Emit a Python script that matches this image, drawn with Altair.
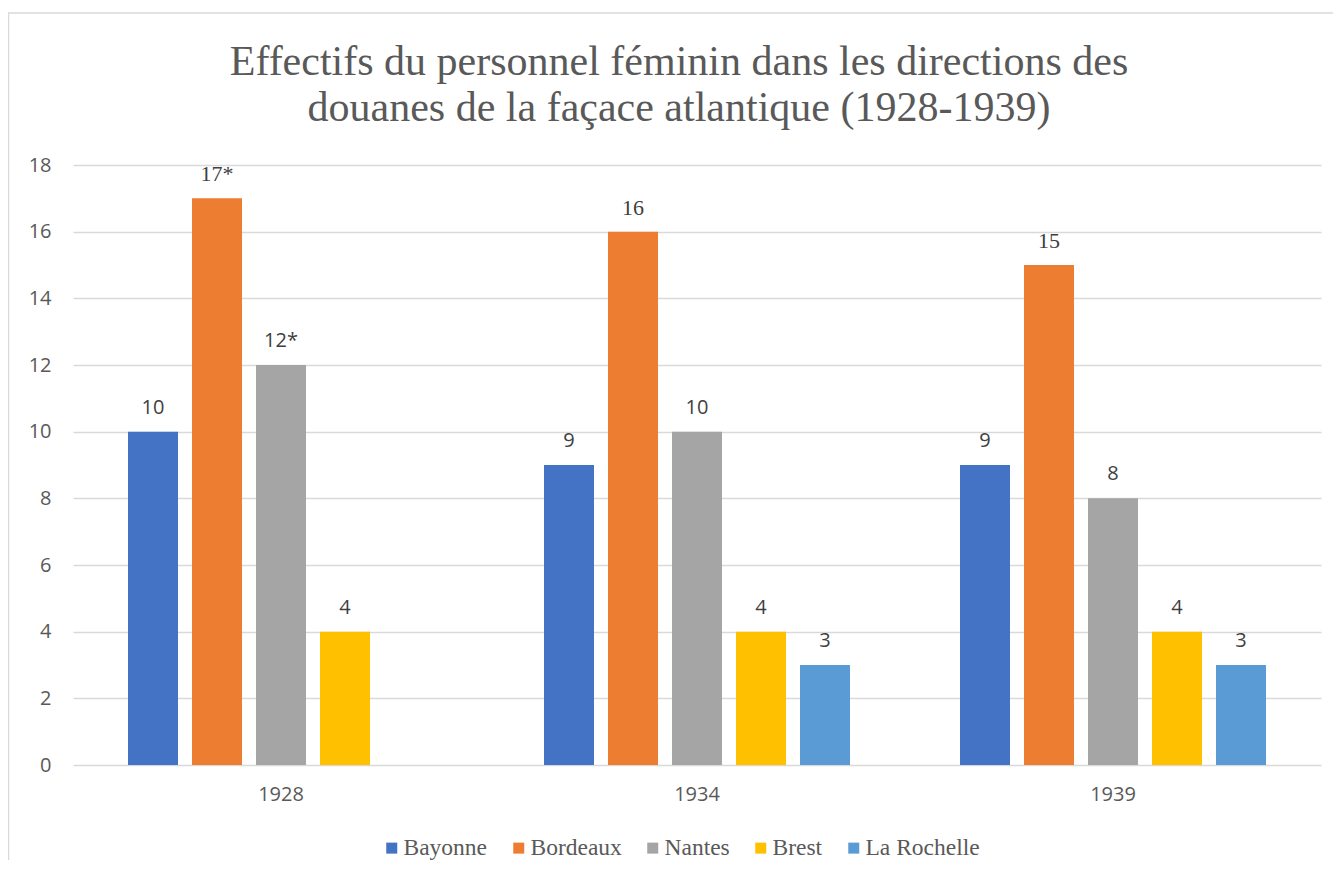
import altair as alt
import pandas as pd

years = ["1928", "1934", "1939"]
series = ["Bayonne", "Bordeaux", "Nantes", "Brest", "La Rochelle"]
colors = ["#4472C4", "#ED7D31", "#A5A5A5", "#FFC000", "#5B9BD5"]

bayonne = [10, 9, 9]
bordeaux = [17, 16, 15]
nantes = [12, 10, 8]
brest = [4, 4, 4]
la_rochelle = [None, 3, 3]

bayonne_labels = ["10", "9", "9"]
bordeaux_labels = ["17*", "16", "15"]
nantes_labels = ["12*", "10", "8"]
brest_labels = ["4", "4", "4"]
la_rochelle_labels = [None, "3", "3"]

y_ticks = [0, 2, 4, 6, 8, 10, 12, 14, 16, 18]

title_lines = [
    "Effectifs du personnel féminin dans les directions des",
    "douanes de la façace atlantique (1928-1939)",
]

all_values = [bayonne, bordeaux, nantes, brest, la_rochelle]
all_labels = [bayonne_labels, bordeaux_labels, nantes_labels, brest_labels, la_rochelle_labels]

rows = []
for s, vals, labs in zip(series, all_values, all_labels):
    for yr, v, lab in zip(years, vals, labs):
        if v is None:
            continue
        rows.append({"year": yr, "series": s, "value": v, "label": lab})
df = pd.DataFrame(rows)

GRID = "#D9D9D9"
TXT = "#595959"

base = alt.Chart(df).encode(
    x=alt.X(
        "year:N",
        sort=years,
        scale=alt.Scale(paddingInner=0.2644, paddingOuter=0.1322),
        axis=alt.Axis(
            title=None, labelAngle=0, domain=False, ticks=False, grid=False,
            labelPadding=19, labelFont="Open Sans", labelFontSize=20, labelColor=TXT,
        ),
    ),
    xOffset=alt.XOffset(
        "series:N",
        sort=series,
        scale=alt.Scale(domain=series, paddingInner=0.21875, paddingOuter=0),
    ),
    y=alt.Y(
        "value:Q",
        scale=alt.Scale(domain=[0, 18], nice=False),
        axis=alt.Axis(
            title=None, values=y_ticks, domain=False, ticks=False,
            labelPadding=22, labelFont="Open Sans", labelFontSize=20, labelColor=TXT,
            gridColor=GRID, gridWidth=1.3,
        ),
    ),
)

bars = base.mark_bar().encode(
    color=alt.Color(
        "series:N",
        sort=series,
        scale=alt.Scale(domain=series, range=colors),
        legend=alt.Legend(
            title=None, orient="none", direction="horizontal",
            legendX=307, legendY=671,
            symbolType="square", symbolSize=121, symbolStrokeWidth=0,
            labelFont="Liberation Serif", labelFontSize=23.5, labelColor=TXT,
            labelOffset=0, columnPadding=19, padding=0,
        ),
    )
)

labels_serif = base.transform_filter(alt.datum.series == "Bordeaux").mark_text(
    font="Liberation Serif", fontSize=22, dy=-17, baseline="alphabetic", color="#404040"
).encode(text="label:N")

labels_sans = base.transform_filter(alt.datum.series != "Bordeaux").mark_text(
    font="Open Sans", fontSize=20, dy=-18, baseline="alphabetic", color="#404040"
).encode(text="label:N")

frame = alt.Chart(pd.DataFrame({"k": [0]})).mark_rect(
    fill="#ffffff", fillOpacity=0, stroke=GRID, strokeWidth=1.5
).encode(
    x=alt.value(-64.5), x2=alt.value(1400), y=alt.value(-152), y2=alt.value(900)
)

chart = alt.layer(frame, bars, labels_serif, labels_sans).properties(
    width=1248,
    height=600,
    autosize=alt.AutoSizeParams(type="none"),
    padding={"left": 65, "top": 157, "right": 12, "bottom": 95},
    title=alt.TitleParams(
        text=title_lines, font="Liberation Serif", fontSize=42, fontWeight="normal",
        color=TXT, anchor="middle", frame="group", dx=-18, dy=118, offset=0, lineHeight=46.5,
    ),
).configure_view(strokeWidth=0)

chart.save("out.html", embed_options={"renderer": "svg", "actions": False})
